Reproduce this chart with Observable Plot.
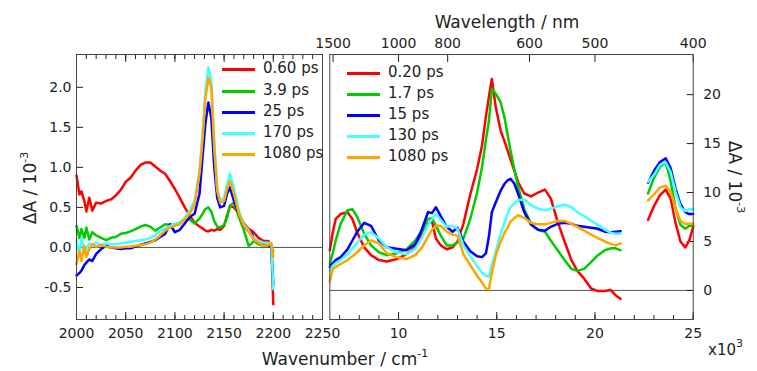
<!DOCTYPE html>
<html><head><meta charset="utf-8">
<script src="https://cdn.jsdelivr.net/npm/d3@7"></script>
<script src="https://cdn.jsdelivr.net/npm/@observablehq/plot@0.6"></script>
<style>
body{margin:0;background:#fff;}
#wrap{position:relative;width:757px;height:371px;overflow:hidden;background:#fff;font-family:"DejaVu Sans",Verdana,sans-serif;color:#222;}
#wrap svg{position:absolute;top:0;}
.abs{position:absolute;white-space:nowrap;line-height:1;}
.ttl{font-size:17px;}
.leg{font-size:15px;}
.sw{position:absolute;height:3px;width:33px;}
sup{font-size:11px;vertical-align:0;position:relative;top:-8px;}
</style></head><body><div id="wrap"></div>
<script>
// ---------- mid-IR panel (left) ----------
const irWavenumber = [2000,2003,2005,2008,2010,2013,2016,2020,2025,2030,2035,2040,2045,2050,2055,2060,2065,2070,2075,2080,2085,2090,2095,2100,2105,2110,2115,2120,2125,2128,2131,2134,2137,2140,2143,2146,2150,2153,2156,2160,2165,2170,2175,2178,2180,2185,2190,2195,2198,2200];
const irLabels = ["0.60 ps","3.9 ps","25 ps","170 ps","1080 ps"];
const ir_060 = [0.90,0.66,0.70,0.58,0.45,0.62,0.46,0.56,0.55,0.58,0.60,0.65,0.72,0.82,0.87,0.96,1.03,1.06,1.06,1.01,0.96,0.92,0.83,0.73,0.62,0.50,0.40,0.31,0.26,0.24,0.21,0.20,0.22,0.21,0.23,0.22,0.27,0.40,0.52,0.50,0.42,0.30,0.23,0.21,0.19,0.12,0.08,0.08,0.03,-0.71];
const ir_39 = [0.27,0.12,0.23,0.12,0.25,0.10,0.19,0.15,0.12,0.09,0.12,0.13,0.17,0.18,0.20,0.23,0.26,0.28,0.26,0.21,0.25,0.29,0.28,0.29,0.31,0.35,0.35,0.30,0.36,0.42,0.48,0.50,0.45,0.33,0.26,0.25,0.28,0.37,0.52,0.56,0.38,0.22,0.02,0.05,0.08,0.04,0.02,0.03,0.01,-0.05];
const ir_25 = [-0.35,-0.32,-0.29,-0.22,-0.19,-0.15,-0.17,-0.08,-0.02,0.02,0.00,-0.01,-0.02,-0.01,-0.01,0.01,0.03,0.05,0.07,0.09,0.13,0.17,0.29,0.19,0.22,0.30,0.38,0.42,0.67,1.12,1.55,1.81,1.62,1.00,0.62,0.50,0.52,0.67,0.75,0.58,0.42,0.27,0.20,0.18,0.12,0.06,0.04,0.03,0.00,-0.46];
const ir_170 = [0.08,-0.08,0.12,-0.08,-0.02,0.05,0.03,0.06,0.03,0.05,0.04,0.04,0.05,0.06,0.07,0.08,0.09,0.10,0.12,0.15,0.21,0.23,0.27,0.29,0.31,0.37,0.46,0.58,0.96,1.42,1.96,2.25,2.08,1.33,0.75,0.58,0.62,0.79,0.92,0.75,0.46,0.29,0.21,0.15,0.12,0.08,0.06,0.06,0.05,-0.52];
const ir_1080 = [-0.21,-0.04,-0.17,0.02,-0.12,-0.02,0.04,0.01,0.03,0.01,0.00,0.00,0.00,0.01,0.01,0.02,0.03,0.04,0.06,0.10,0.15,0.21,0.25,0.27,0.29,0.35,0.42,0.54,0.92,1.33,1.87,2.12,2.00,1.25,0.71,0.56,0.58,0.73,0.83,0.67,0.42,0.27,0.19,0.14,0.10,0.06,0.02,0.03,0.05,-0.12];
const irSeries = [ir_060, ir_39, ir_25, ir_170, ir_1080];
const irXTicks = [2000,2050,2100,2150,2200,2250];
const irYTicks = [-0.5,0,0.5,1,1.5,2];

// ---------- vis panel (right), wavenumber in 10^3 cm^-1 ----------
const visLabels = ["0.20 ps","1.7 ps","15 ps","130 ps","1080 ps"];
const visWavenumberA = [6.5,6.65,6.8,7.05,7.4,7.65,7.9,8.25,8.6,9.0,9.4,9.9,10.4,10.85,11.2,11.5,11.7,11.9,12.15,12.45,12.75,13.0,13.3,13.65,14.0,14.25,14.45,14.6,14.75,14.95,15.2,15.4,15.55,15.7,15.9,16.1,16.4,16.75,17.1,17.45,17.75,18.1,18.45,18.8,19.1,19.45,19.8,20.15,20.5,20.8,21.05,21.3];
const visWavenumberB = [22.7,23.0,23.3,23.6,23.85,24.1,24.35,24.6,24.8,25.0];
const vis_020_A = [4.1,5.9,7.3,7.8,8.0,7.3,5.9,4.4,3.6,3.1,2.95,3.2,3.7,4.4,5.8,6.8,7.1,5.3,4.6,4.2,4.4,5.0,6.8,9.8,12.4,14.8,17.8,19.8,21.6,18.7,16.3,15.2,14.3,13.4,12.2,11.0,9.9,9.6,10.0,10.3,9.4,7.0,5.0,3.1,2.0,1.2,0.2,-0.07,-0.05,0.05,-0.5,-0.85];
const vis_17_A = [2.7,3.8,5.1,6.8,8.2,8.3,7.5,5.8,4.6,3.9,3.6,3.8,4.2,5.1,6.1,7.3,7.4,6.6,5.6,4.6,4.6,4.9,5.3,7.3,10.0,12.6,15.4,17.3,20.6,20.1,19.2,17.6,15.9,14.3,12.3,10.5,8.3,6.8,6.2,6.0,5.1,4.1,3.1,2.2,2.0,2.2,2.9,3.6,4.1,4.3,4.3,4.1];
const vis_15_A = [2.4,2.8,3.1,3.4,4.2,5.1,6.0,6.9,6.6,5.1,4.4,4.25,4.1,4.7,6.3,8.0,7.9,8.5,7.6,6.5,6.0,6.4,5.0,4.0,3.5,3.4,3.8,5.5,8.0,9.0,10.2,10.9,11.25,11.4,10.9,9.8,8.0,6.7,6.2,6.1,6.5,6.8,6.9,6.8,6.6,6.5,6.4,6.3,6.0,5.95,6.0,6.05];
const vis_130_A = [2.0,2.5,2.8,3.1,3.7,4.3,4.9,5.7,5.95,5.3,4.4,3.9,3.7,4.25,5.4,6.7,7.3,7.8,7.2,6.5,6.6,6.3,4.6,3.5,2.5,1.8,1.5,1.4,2.6,4.0,5.8,7.0,7.8,8.5,8.9,9.25,9.3,8.7,8.35,8.2,8.35,8.6,8.75,8.5,8.0,7.6,7.1,6.7,6.2,5.9,5.8,5.8];
const vis_1080_A = [0.9,2.2,2.4,2.7,3.1,3.5,3.9,4.6,5.1,4.8,3.8,3.4,3.2,3.6,4.4,5.5,6.2,6.6,6.6,6.0,5.7,5.6,3.7,2.6,1.5,0.8,0.2,0.1,1.8,3.6,5.0,5.9,6.4,7.0,7.4,7.7,7.4,6.9,6.75,6.75,6.9,7.1,7.1,6.8,6.5,6.1,5.7,5.35,5.0,4.75,4.6,4.8];
const vis_020_B = [7.2,8.6,9.7,10.3,9.4,6.9,5.0,4.4,5.1,6.5];
const vis_17_B = [9.9,11.5,12.6,13.1,11.2,8.4,6.7,6.3,6.6,6.6];
const vis_15_B = [11.0,12.2,13.1,13.5,12.5,10.4,8.8,8.0,7.8,7.8];
const vis_130_B = [11.1,11.8,12.8,13.1,12.1,10.1,8.5,8.1,8.3,8.3];
const vis_1080_B = [9.2,9.8,10.5,10.7,10.1,8.4,7.1,6.8,6.8,6.8];
const visSeriesA = [vis_020_A, vis_17_A, vis_15_A, vis_130_A, vis_1080_A];
const visSeriesB = [vis_020_B, vis_17_B, vis_15_B, vis_130_B, vis_1080_B];
const visXTicks = [10,15,20,25];
const visYTicks = [0,5,10,15,20];
const wavelengthTicks = [1500,1000,800,600,500,400];

const colors = ["#ff0000","#00cc00","#0000ff","#44ffff","#ffa500"];

// ---------- build tables ----------
const irRows = irSeries.flatMap((vals, s) => vals.map((v, i) => ({x: irWavenumber[i], y: v, series: irLabels[s], key: irLabels[s]})));
const visRows = [
  ...visSeriesA.flatMap((vals, s) => vals.map((v, i) => ({x: visWavenumberA[i], y: v, series: visLabels[s], key: visLabels[s] + "A"}))),
  ...visSeriesB.flatMap((vals, s) => vals.map((v, i) => ({x: visWavenumberB[i], y: v, series: visLabels[s], key: visLabels[s] + "B"})))
];

const baseStyle = {background: "transparent", fontFamily: "DejaVu Sans, Verdana, sans-serif", fontSize: "14px", color: "#222", overflow: "visible"};
const blank = () => "";

const left = Plot.plot({
  width: 330, height: 371,
  marginLeft: 76, marginRight: 8, marginTop: 54, marginBottom: 52,
  style: baseStyle,
  x: {domain: [2000, 2250]},
  y: {domain: [-0.9, 2.41]},
  color: {domain: irLabels, range: colors},
  marks: [
    Plot.ruleY([0], {stroke: "#555", strokeWidth: 1}),
    Plot.axisX(d3.range(2000, 2251, 10), {anchor: "bottom", tickSize: -4, tickFormat: blank, label: null}),
    Plot.axisX(irXTicks, {anchor: "bottom", tickSize: -7, tickFormat: blank, label: null}),
    Plot.axisX(d3.range(2000, 2251, 10), {anchor: "top", tickSize: -4, tickFormat: blank, label: null}),
    Plot.axisX(irXTicks, {anchor: "top", tickSize: -7, tickFormat: blank, label: null}),
    Plot.axisX(irXTicks, {anchor: "bottom", tickSize: 0, tickPadding: 9, label: null, tickFormat: d => String(d)}),
    Plot.axisY(irYTicks, {anchor: "left", tickSize: -7, tickFormat: blank, label: null}),
    Plot.axisY(irYTicks, {anchor: "left", tickSize: 0, tickPadding: 5, label: null, tickFormat: d => d.toFixed(1)}),
    Plot.line(irRows, {x: "x", y: "y", z: "key", stroke: "series", strokeWidth: 2.5, strokeLinejoin: "round"}),
    Plot.frame({stroke: "#444", strokeWidth: 1})
  ]
});

const right = Plot.plot({
  width: 457, height: 371,
  marginLeft: 29.3, marginRight: 64.3, marginTop: 54, marginBottom: 52,
  style: baseStyle,
  x: {domain: [6.5, 25]},
  y: {domain: [-2.97, 24.1]},
  color: {domain: visLabels, range: colors},
  marks: [
    Plot.ruleY([0], {stroke: "#555", strokeWidth: 1}),
    Plot.axisX(d3.range(7, 25.01, 1), {anchor: "bottom", tickSize: -4, tickFormat: blank, label: null}),
    Plot.axisX(visXTicks, {anchor: "bottom", tickSize: -7, tickFormat: blank, label: null}),
    Plot.axisX(visXTicks, {anchor: "bottom", tickSize: 0, tickPadding: 9, label: null, tickFormat: d => String(d)}),
    Plot.axisX(wavelengthTicks.map(n => 1e4 / n), {anchor: "top", tickSize: -7, tickFormat: blank, label: null}),
    Plot.axisX(wavelengthTicks.map(n => 1e4 / n), {anchor: "top", tickSize: 0, tickPadding: 7, label: null, tickFormat: d => String(Math.round(1e4 / d))}),
    Plot.axisY(visYTicks, {anchor: "right", tickSize: -7, tickFormat: blank, label: null}),
    Plot.axisY(visYTicks, {anchor: "right", tickSize: 0, tickPadding: 10, label: null, tickFormat: d => String(d)}),
    Plot.line(visRows, {x: "x", y: "y", z: "key", stroke: "series", strokeWidth: 2.5, strokeLinejoin: "round"}),
    Plot.frame({stroke: "#444", strokeWidth: 1})
  ]
});

const wrap = document.getElementById("wrap");
left.style.left = "0px";
right.style.left = "300px";
wrap.appendChild(left);
wrap.appendChild(right);

function addDiv(html, cls, css) {
  const d = document.createElement("div");
  d.className = "abs " + cls;
  d.innerHTML = html;
  Object.assign(d.style, css);
  wrap.appendChild(d);
  return d;
}

// axis titles
addDiv("Wavelength / nm", "ttl", {left: "507px", top: "14px", transform: "translateX(-50%)"});
addDiv("Wavenumber / cm<sup>-1</sup>", "ttl", {left: "345px", top: "351px", transform: "translateX(-50%)"});
addDiv("ΔA / 10<sup>-3</sup>", "ttl", {left: "30px", top: "188px", transform: "translate(-50%,-50%) rotate(-90deg)"});
addDiv("ΔA / 10<sup>-3</sup>", "ttl", {left: "734px", top: "177px", transform: "translate(-50%,-50%) rotate(90deg)"});
addDiv("x10<sup>3</sup>", "ttl", {left: "708px", top: "343px", fontSize: "15px"});

// legends
function legend(labels, swLeft, textLeft, yCenters) {
  labels.forEach((lab, i) => {
    const s = document.createElement("div");
    s.className = "sw";
    Object.assign(s.style, {left: swLeft + "px", top: (yCenters[i] - 1.5) + "px", background: colors[i]});
    wrap.appendChild(s);
    addDiv(lab, "leg", {left: textLeft + "px", top: (yCenters[i] - 8) + "px"});
  });
}
legend(irLabels, 222, 263, [69, 91, 112, 133, 154]);
legend(visLabels, 347, 388, [73, 94, 115, 136, 157]);
</script></body></html>
